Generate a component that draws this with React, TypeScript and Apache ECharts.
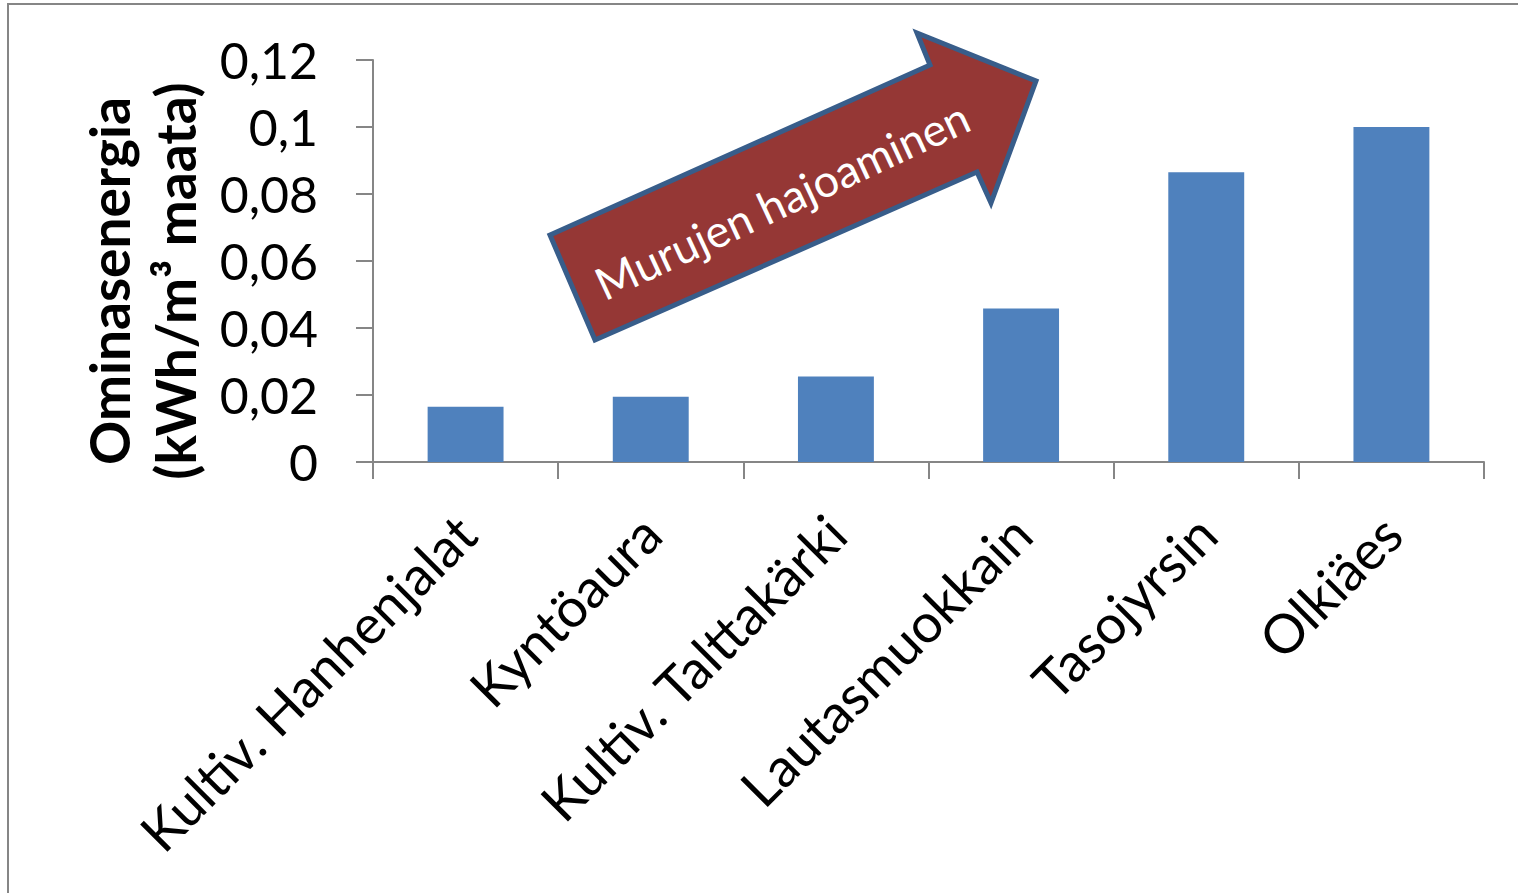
import React, { useEffect, useRef } from "react";
import * as echarts from "echarts";

const categories = [
  "Kultiv. Hanhenjalat",
  "Kyntöaura",
  "Kultiv. Talttakärki",
  "Lautasmuokkain",
  "Tasojyrsin",
  "Olkiäes",
];
const values = [0.0165, 0.0195, 0.0255, 0.0458, 0.0865, 0.1];
const yAxisTitle = "Ominasenergia\n(kWh/m³ maata)";
const arrowText = "Murujen hajoaminen";

const FONT = "Lato, 'Open Sans', sans-serif";

export default function App() {
  const ref = useRef<HTMLDivElement>(null);
  useEffect(() => {
    if (!ref.current) return;
    const chart = echarts.init(ref.current, undefined, { renderer: "svg" });
    chart.setOption({
      animation: false,
      backgroundColor: "#ffffff",
      grid: { left: 373, top: 60, right: 34, bottom: 431, containLabel: false },
      xAxis: {
        type: "category",
        data: categories,
        axisLine: { lineStyle: { color: "#868686", width: 2 } },
        axisTick: { show: true, length: 17, lineStyle: { color: "#868686", width: 2 } },
        axisLabel: {
          interval: 0,
          rotate: 45,
          margin: 62,
          color: "#000",
          fontSize: 54,
          fontFamily: FONT,
        },
      },
      yAxis: {
        type: "value",
        min: 0,
        max: 0.12,
        interval: 0.02,
        name: yAxisTitle,
        nameLocation: "middle",
        nameRotate: 90,
        nameGap: 165,
        nameTextStyle: {
          color: "#000",
          fontSize: 55,
          fontWeight: "bold",
          fontFamily: FONT,
          lineHeight: 66,
          padding: [0, 40, 0, 0],
        },
        splitLine: { show: false },
        axisLine: { show: true, lineStyle: { color: "#868686", width: 2 } },
        axisTick: { show: true, length: 17, lineStyle: { color: "#868686", width: 2 } },
        axisLabel: {
          margin: 55,
          color: "#000",
          fontSize: 50,
          fontFamily: FONT,
          formatter: (v: number) => String(Math.round(v * 100) / 100).replace(".", ","),
        },
      },
      series: [
        {
          type: "bar",
          data: values,
          barWidth: "41%",
          itemStyle: { color: "#4F81BD" },
        },
      ],
      graphic: [
        {
          type: "rect",
          shape: { x: 8, y: 4, width: 1600, height: 1000 },
          style: { fill: "none", stroke: "#868686", lineWidth: 2 },
          silent: true,
        },
        {
          type: "polygon",
          shape: {
            points: [
              [550, 235],
              [930, 65],
              [917, 33],
              [1036, 81],
              [991, 203],
              [977, 172],
              [595, 340],
            ],
          },
          style: { fill: "#953735", stroke: "#385D8A", lineWidth: 5, lineJoin: "miter" },
          z: 10,
        },
        {
          type: "text",
          x: 782,
          y: 200,
          rotation: (25 * Math.PI) / 180,
          style: {
            text: arrowText,
            fill: "#ffffff",
            fontSize: 45,
            fontFamily: FONT,
            align: "center",
            verticalAlign: "middle",
          },
          z: 11,
        },
      ],
    });
    return () => chart.dispose();
  }, []);
  return (
    <div
      ref={ref}
      style={{ position: "absolute", left: 0, top: 0, width: 1518, height: 893 }}
    />
  );
}
